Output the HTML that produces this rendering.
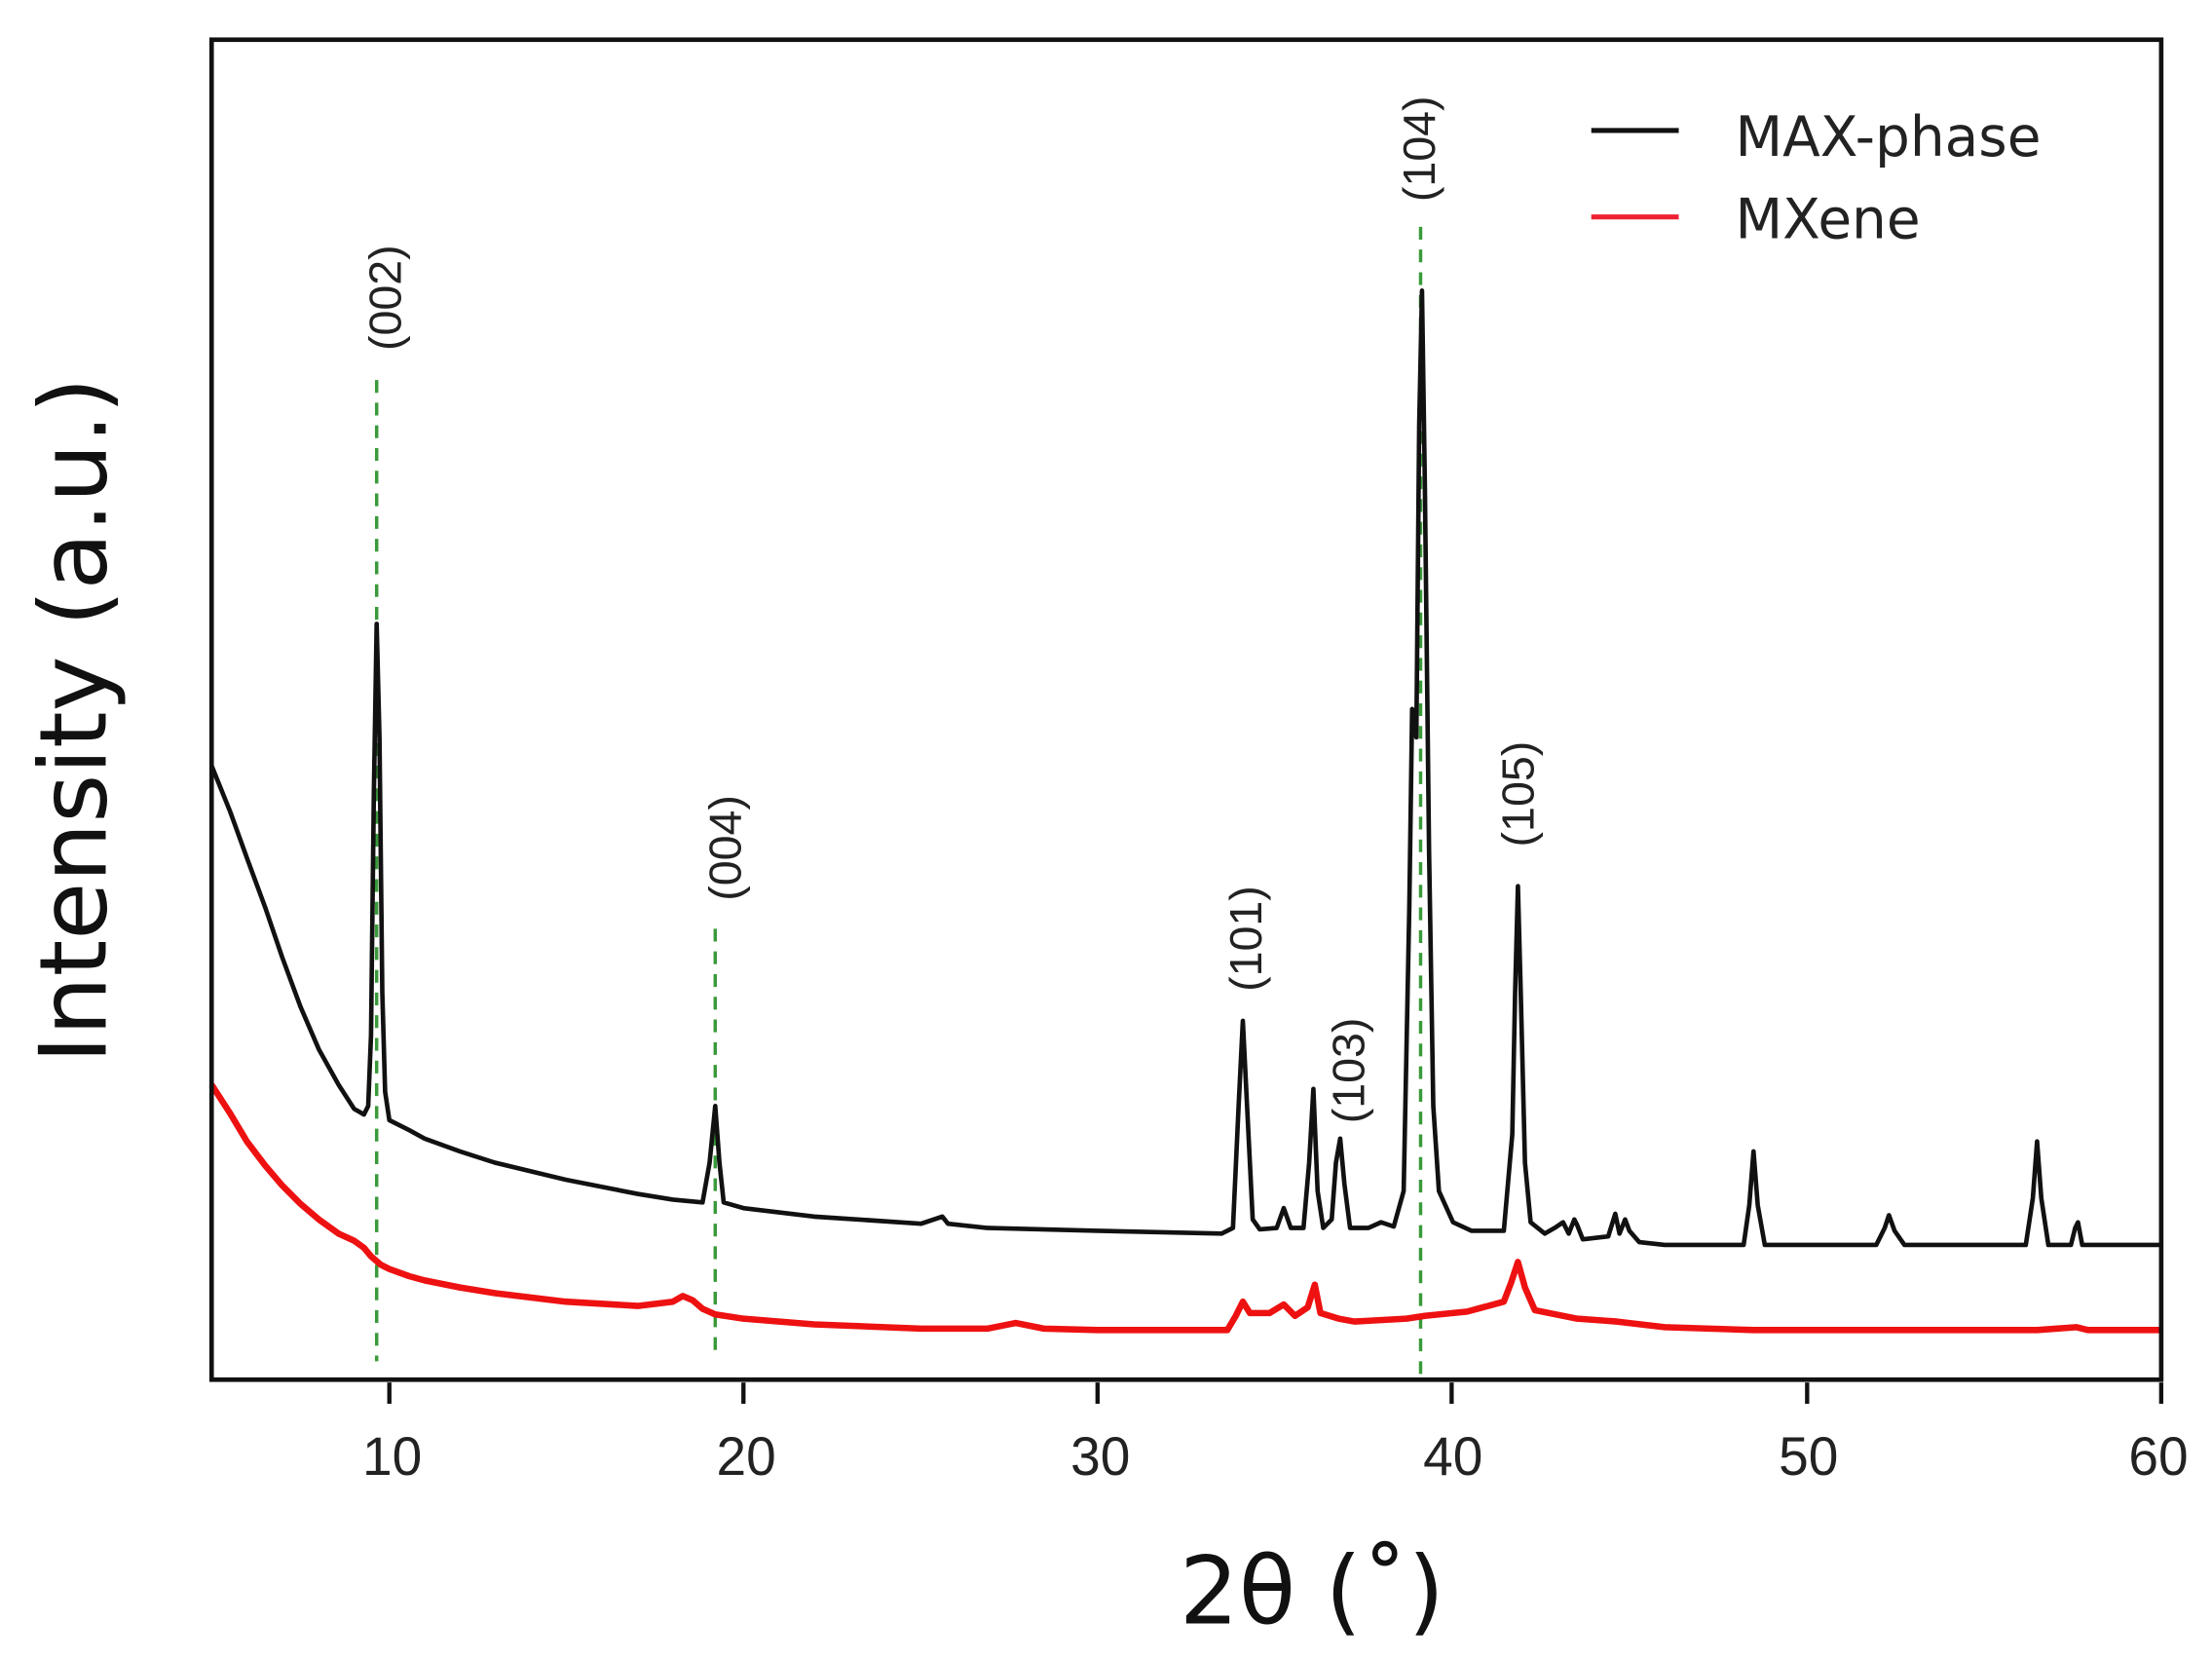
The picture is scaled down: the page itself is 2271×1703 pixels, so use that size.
<!DOCTYPE html>
<html><head><meta charset="utf-8"><style>
html,body{margin:0;padding:0;background:#fff;}
svg{display:block;}
</style></head><body>
<svg width="2271" height="1703" viewBox="0 0 1568 1170" preserveAspectRatio="none" xmlns="http://www.w3.org/2000/svg">
<rect x="0" y="0" width="1568" height="1170" fill="#fff"/>
<g stroke="#3a9a3a" stroke-width="2.4" stroke-dasharray="9,7" fill="none">
<line x1="267" y1="268" x2="267" y2="960"/>
<line x1="507" y1="655" x2="507" y2="958"/>
<line x1="1007" y1="160" x2="1007" y2="970"/>
</g>
<polyline fill="none" stroke="#ee1111" stroke-width="4.5" stroke-linejoin="round" points="
150,765 163,785 175,805 188,822 200,836 213,849 226,860 240,870 251,875 258,880 263,886 270,892 276,895 290,900 301,903 326,908 351,912 401,918 452,921 477,918 484,914 491,917 498,923 507,927 527,930 577,934 653,937 700,937 720,933 740,937 778,938 850,938 870,938 876,928 881,918 886,926 900,926 910,920 918,928 927,922 932,906 936,926 949,930 960,932 997,930 1010,928 1040,925 1066,918 1071,905 1076,890 1081,908 1088,924 1118,930 1146,932 1180,936 1243,938 1339,938 1444,938 1472,936 1480,938 1532,938"/>
<polyline fill="none" stroke="#111" stroke-width="3.2" stroke-linejoin="round" points="
150,540 163,572 175,605 188,640 200,675 213,710 226,740 240,765 251,782 258,786 261,780 263,730 265,560 267,440 269,520 271,700 273,770 276,790 290,797 301,803 326,812 351,820 401,832 452,842 477,846 498,848 503,820 507,780 510,820 513,848 527,852 577,858 653,863 668,858 672,863 700,866 778,868 866,870 874,866 878,780 881,720 884,780 888,860 893,867 905,866 910,852 915,866 924,866 928,820 931,768 934,840 938,866 944,860 947,820 950,803 953,835 957,866 970,866 979,862 988,865 995,840 999,640 1001,500 1004,520 1006,300 1008,205 1010,340 1013,600 1016,780 1020,840 1030,862 1043,868 1066,868 1072,800 1074,700 1076,625 1078,700 1081,820 1085,862 1095,870 1102,866 1108,862 1112,870 1116,860 1118,864 1122,874 1140,872 1145,856 1148,870 1152,860 1155,868 1162,876 1180,878 1236,878 1240,850 1243,812 1246,850 1251,878 1330,878 1336,866 1339,857 1343,868 1350,878 1436,878 1441,845 1444,805 1447,845 1452,878 1468,878 1471,866 1473,862 1476,878 1532,878"/>
<rect x="150" y="28" width="1382" height="945" fill="none" stroke="#111" stroke-width="3.2"/>
<g stroke="#111" stroke-width="3">
<line x1="276" y1="975" x2="276" y2="990"/>
<line x1="527" y1="975" x2="527" y2="990"/>
<line x1="778" y1="975" x2="778" y2="990"/>
<line x1="1029" y1="975" x2="1029" y2="990"/>
<line x1="1281" y1="975" x2="1281" y2="990"/>
<line x1="1532" y1="975" x2="1532" y2="990"/>
</g>
<g font-family="'Liberation Sans',sans-serif" font-size="38" fill="#222" text-anchor="middle">
<text x="278" y="1040">10</text>
<text x="529" y="1040">20</text>
<text x="780" y="1040">30</text>
<text x="1030" y="1040">40</text>
<text x="1282" y="1040">50</text>
<text x="1530" y="1040">60</text>
</g>
<text x="930" y="1145" font-family="'DejaVu Sans','Liberation Sans',sans-serif" font-size="66" fill="#111" text-anchor="middle">2θ (˚)</text>
<text transform="translate(75,508) rotate(-90)" font-family="'DejaVu Sans','Liberation Sans',sans-serif" font-size="66" fill="#111" text-anchor="middle">Intensity (a.u.)</text>
<g font-family="'Liberation Sans',sans-serif" font-size="32" fill="#222" text-anchor="middle">
<text transform="translate(284,210) rotate(-90)">(002)</text>
<text transform="translate(525,598) rotate(-90)">(004)</text>
<text transform="translate(894,662) rotate(-90)">(101)</text>
<text transform="translate(967,755) rotate(-90)">(103)</text>
<text transform="translate(1017,105) rotate(-90)">(104)</text>
<text transform="translate(1087,560) rotate(-90)">(105)</text>
</g>
<line x1="1128" y1="92" x2="1190" y2="92" stroke="#111" stroke-width="3.5"/>
<line x1="1128" y1="153" x2="1190" y2="153" stroke="#ee2233" stroke-width="3.5"/>
<g font-family="'DejaVu Sans','Liberation Sans',sans-serif" font-size="39" fill="#222">
<text x="1230" y="110">MAX-phase</text>
<text x="1230" y="168">MXene</text>
</g>
</svg>
</body></html>
